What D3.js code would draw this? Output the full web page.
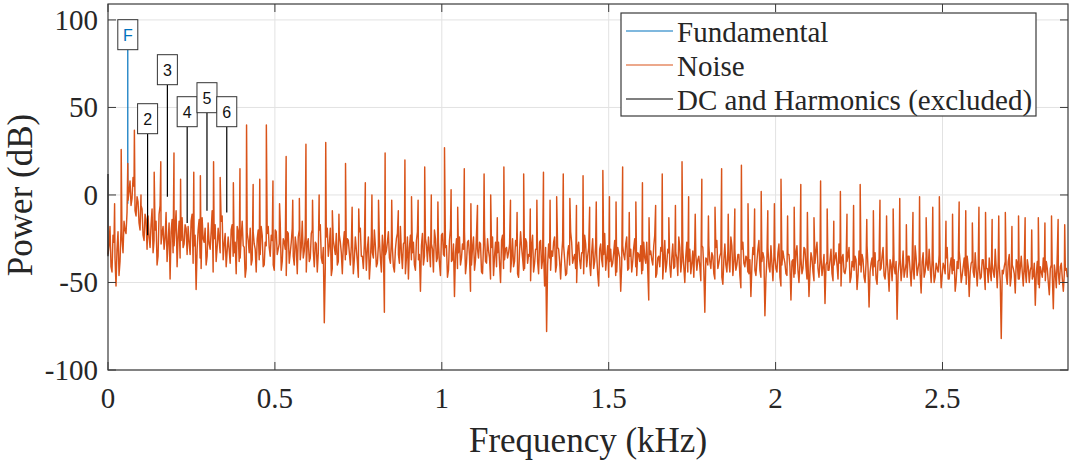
<!DOCTYPE html>
<html>
<head>
<meta charset="utf-8">
<title>Power spectrum</title>
<script src="https://d3js.org/d3.v7.min.js"></script>
<style>
  body { margin: 0; background: #ffffff; }
  svg text { font-family: 'Liberation Serif', 'Times New Roman', serif; fill: #262626; }
  .tick-label { font-size: 29px; }
  .axis-title { font-size: 35px; }
  .legend-text { font-size: 29px; }
  .harm-label { font-family: 'Liberation Sans', Arial, sans-serif; font-size: 16px; }
  .grid line { stroke: #e2e2e2; stroke-width: 1; }
</style>
</head>
<body>
<svg id="chart" width="1071" height="462"></svg>
<script>
// ---- data ----
const xTicks = [0, 0.5, 1, 1.5, 2, 2.5];
const yTicks = [-100, -50, 0, 50, 100];
const xMax = 2.876;            // kHz
const yMin = -100, yMax = 109.1;

const f0 = 0.0593;             // fundamental, kHz
const harmonicLabels = ["F", "2", "3", "4", "5", "6"];
const harmonicPeak = [83, 35, 63, 39, 47, 39];     // dB
const harmonicBase = [-5, -23, -1, -16, -9, -10];  // dB
const dcPeak = 12, dcBase = -35;

// noise floor, one value every 6 Hz (0 .. 2.874 kHz)
const floorStep = 0.006;
const noiseFloor = [
  -34,-18,-44,-27,-52,-21,-38,-25,-15,-22,-3,8,-2,5,-12,-4,-20,-8,-26,-14,
  -12,-30,-8,-26,-15,-35,-6,-22,-31,-10,-27,-48,-14,-29,-9,-24,-36,-13,-28,-19,
  -18,-34,-11,-29,-54,-20,-36,-13,-27,-40,-16,-31,-9,-25,-38,-19,-33,-12,-28,-41,
  -24,-39,-17,-33,-45,-21,-36,-15,-30,-42,-26,-19,-37,-28,-44,-20,-34,-23,-40,-29,
  -18,-35,-26,-43,-21,-31,-16,-38,-27,-46,-22,-33,-19,-40,-29,-24,-37,-15,-32,-44,
  -25,-36,-20,-41,-28,-33,-17,-39,-73,-24,-35,-19,-42,-30,-22,-38,-27,-45,-21,-34,
  -26,-40,-22,-37,-31,-47,-19,-35,-28,-43,-24,-38,-33,-20,-41,-29,-36,-23,-67,-32,
  -21,-39,-30,-44,-25,-34,-18,-42,-27,-36,-48,-23,-33,-40,-26,-37,-55,-22,-35,-29,
  -24,-41,-31,-20,-38,-27,-46,-22,-35,-29,-43,-19,-37,-58,-25,-33,-40,-28,-21,-39,
  -26,-55,-30,-43,-22,-36,-28,-45,-20,-39,-32,-48,-24,-35,-41,-27,-50,-23,-37,-30,
  -33,-44,-25,-38,-29,-47,-21,-36,-42,-27,-34,-49,-23,-39,-31,-45,-26,-37,-52,-78,
  -28,-43,-35,-24,-40,-31,-48,-26,-37,-45,-29,-21,-39,-34,-50,-27,-42,-33,-23,-41,
  -30,-46,-25,-38,-34,-52,-28,-41,-22,-36,-47,-31,-39,-26,-44,-33,-55,-29,-37,-24,
  -42,-31,-38,-25,-46,-34,-29,-43,-36,-27,-60,-32,-40,-23,-45,-35,-30,-48,-26,-39,
  -33,-47,-28,-41,-36,-24,-44,-31,-50,-27,-38,-45,-32,-26,-43,-35,-49,-30,-67,-37,
  -29,-42,-35,-48,-26,-39,-33,-51,-28,-44,-37,-24,-46,-31,-40,-34,-53,-27,-41,-36,
  -45,-58,-30,-43,-38,-26,-47,-33,-69,-36,-41,-29,-49,-35,-44,-28,-52,-32,-39,-46,
  -34,-60,-37,-45,-29,-50,-36,-42,-31,-48,-58,-33,-44,-39,-27,-47,-35,-41,-62,-38,
  -43,-31,-49,-36,-40,-28,-52,-34,-45,-38,-30,-47,-41,-35,-54,-32,-44,-37,-50,-29,
  -64,-39,-46,-33,-51,-37,-42,-30,-48,-36,-55,-40,-34,-45,-71,-38,-49,-32,-43,-47,
  -35,-52,-41,-29,-46,-38,-56,-33,-44,-40,-31,-50,-37,-47,-42,-34,-53,-39,-45,-30,
  -48,-36,-43,-55,-38,-32,-50,-41,-46,-35,-58,-39,-44,-33,-52,-40,-47,-37,-54,-42,
  -36,-49,-44,-31,-53,-40,-82,-45,-38,-51,-34,-47,-42,-56,-39,-48,-35,-52,-43,-37,
  -50,-41,-46,-63,-38,-53,-44,-36,-49,-42,-57,-40,-65,-45,-33,-51,-39,-55,-43,-47
];

// the in-between noise bins, half a step later (3 Hz .. 2.877 kHz)
const noiseFloorMid = [
  -29,-41,-23,-36,-31,-46,-19,-33,-20,-10,2,-6,10,-9,-1,-16,-6,-23,-11,-31,
  -24,-17,-33,-20,-40,-11,-28,-18,-25,-38,-16,-21,-33,-19,-41,-15,-26,-30,-17,-34,
  -27,-15,-39,-23,-31,-14,-42,-25,-19,-35,-28,-21,-44,-17,-30,-26,-15,-37,-22,-32,
  -31,-20,-35,-27,-18,-38,-24,-29,-47,-22,-33,-40,-21,-31,-25,-37,-18,-41,-27,-22,
  -30,-23,-40,-20,-34,-28,-43,-25,-31,-21,-39,-27,-35,-24,-45,-20,-30,-36,-23,-28,
  -38,-22,-32,-27,-44,-20,-36,-30,-41,-19,-29,-46,-26,-34,-40,-23,-33,-28,-37,-25,
  -33,-29,-45,-24,-38,-21,-35,-42,-26,-31,-48,-23,-36,-29,-39,-25,-44,-30,-34,-27,
  -36,-26,-41,-31,-22,-39,-33,-28,-45,-24,-30,-37,-27,-43,-21,-34,-29,-40,-25,-38,
  -32,-28,-44,-25,-36,-39,-23,-34,-30,-47,-26,-38,-28,-33,-42,-24,-36,-31,-45,-27,
  -35,-40,-24,-37,-31,-27,-44,-29,-38,-25,-36,-30,-46,-27,-33,-39,-26,-42,-31,-36,
  -28,-37,-41,-26,-45,-32,-30,-43,-25,-39,-35,-29,-44,-31,-38,-27,-42,-33,-30,-40,
  -36,-32,-27,-44,-30,-38,-35,-29,-46,-33,-40,-27,-36,-42,-30,-37,-33,-45,-28,-35,
  -39,-33,-42,-28,-45,-31,-37,-34,-43,-29,-38,-41,-33,-46,-30,-36,-40,-34,-28,-43,
  -35,-44,-30,-41,-33,-38,-45,-27,-39,-43,-34,-37,-29,-47,-36,-41,-32,-38,-44,-31,
  -40,-36,-42,-33,-46,-30,-38,-41,-35,-44,-31,-39,-47,-34,-37,-41,-29,-43,-36,-40,
  -38,-33,-45,-30,-42,-35,-47,-37,-40,-32,-44,-29,-38,-43,-34,-46,-31,-39,-35,-44,
  -37,-41,-34,-46,-31,-43,-38,-36,-48,-30,-44,-39,-35,-42,-33,-47,-40,-36,-45,-34,
  -41,-38,-47,-33,-43,-39,-45,-30,-41,-37,-44,-36,-49,-32,-42,-38,-46,-34,-40,-43,
  -37,-45,-40,-33,-48,-39,-36,-44,-41,-35,-50,-38,-43,-37,-46,-40,-34,-47,-39,-42,
  -44,-36,-41,-48,-38,-43,-35,-46,-40,-44,-37,-49,-41,-38,-45,-36,-42,-47,-39,-35,
  -43,-39,-48,-36,-42,-45,-38,-47,-35,-43,-41,-37,-50,-39,-44,-38,-46,-41,-36,-48,
  -40,-45,-37,-49,-42,-39,-46,-36,-51,-41,-44,-38,-47,-43,-40,-48,-37,-45,-42,-50,
  -44,-39,-47,-42,-38,-49,-43,-41,-46,-38,-52,-40,-45,-37,-48,-42,-44,-39,-50,-41,
  -43,-48,-39,-45,-51,-41,-47,-44,-38,-50,-42,-46,-40,-53,-44,-41,-48,-45,-42,-46
];

// noise spikes every f0/3 (k = 1 .. 145); null where the bin is excluded
const spikeStep = f0 / 3;
const spikePower = [
  -5,26,18,37,0,null,13,19,null,24,9,null,13,11,null,19,10,null,7,15,
  40,6,9,40,8,-5,22,-3,-2,29,-3,0,30,-9,-11,18,-7,-8,7,0,
  -3,24,-3,-9,20,-1,-3,16,0,-4,27,3,-7,15,-5,-6,12,0,-13,16,
  -3,-10,12,-8,-3,13,-3,-1,12,-2,-6,11,-7,-4,14,-1,-4,16,-10,-4,
  7,-13,-6,12,-13,-6,19,-1,-11,9,-12,-7,15,-11,-8,17,-5,-8,2,-9,
  -5,9,-12,-7,6,-10,-13,8,-8,-15,2,-11,-6,6,-14,-9,-3,-12,-8,-2,
  -17,-10,-1,-13,-7,-1,-15,-11,-4,-9,-16,-7,-10,-14,-12,-10,-18,-12,-13,-20,
  -13,-16,-12,-14,-17
];

const legendItems = ["Fundamental", "Noise", "DC and Harmonics (excluded)"];
const colors = { fund: "#0072BD", noise: "#D95319", harm: "#000000" };

// ---- layout ----
const margin = { top: 4, right: 3, bottom: 92, left: 108 };
const W = 1071, H = 462;
const iw = W - margin.left - margin.right;
const ih = H - margin.top - margin.bottom;

const svg = d3.select("#chart");
const g = svg.append("g").attr("transform", `translate(${margin.left},${margin.top})`);

const x = d3.scaleLinear().domain([0, xMax]).range([0, iw]);
const y = d3.scaleLinear().domain([yMin, yMax]).range([ih, 0]);

// grid
g.append("g").attr("class", "grid")
  .selectAll("line").data(xTicks.slice(1)).join("line")
  .attr("x1", d => x(d)).attr("x2", d => x(d)).attr("y1", 0).attr("y2", ih);
g.append("g").attr("class", "grid")
  .selectAll("line").data(yTicks).join("line")
  .attr("x1", 0).attr("x2", iw).attr("y1", d => y(d)).attr("y2", d => y(d));

const line = d3.line().x(d => x(d.f)).y(d => y(d.p));

// fundamental (drawn first, under the noise)
g.append("path")
  .datum([{ f: f0, p: harmonicBase[0] }, { f: f0, p: harmonicPeak[0] }])
  .attr("d", line).attr("fill", "none")
  .attr("stroke", colors.fund).attr("stroke-width", 1.2);

// noise trace: floor bins merged with spike bins
const noisePts = noiseFloor.map((p, i) => ({ f: i * floorStep, p }));
noiseFloorMid.forEach((p, i) => noisePts.push({ f: (i + 0.5) * floorStep, p }));
spikePower.forEach((p, i) => {
  if (p !== null) noisePts.push({ f: (i + 1) * spikeStep, p });
});
noisePts.sort((a, b) => a.f - b.f);

g.append("path")
  .datum(noisePts.filter(d => d.f <= xMax))
  .attr("d", line).attr("fill", "none")
  .attr("stroke", colors.noise).attr("stroke-width", 1.45)
  .attr("stroke-linejoin", "round");

// DC and harmonics 2..6
const harmSegs = [[{ f: 0, p: dcBase }, { f: 0, p: dcPeak }]];
for (let h = 1; h < harmonicLabels.length; h++) {
  const f = (h + 1) * f0;
  harmSegs.push([{ f, p: harmonicBase[h] }, { f, p: harmonicPeak[h] }]);
}
g.selectAll("path.harm").data(harmSegs).join("path")
  .attr("class", "harm")
  .attr("d", line).attr("fill", "none")
  .attr("stroke", colors.harm).attr("stroke-width", 1.2);

// harmonic label boxes
const labels = g.selectAll("g.hl").data(harmonicLabels).join("g")
  .attr("class", "hl")
  .attr("transform", (d, i) => `translate(${x((i + 1) * f0)},${y(harmonicPeak[i])})`);
labels.append("rect")
  .attr("x", -10).attr("y", -30).attr("width", 20).attr("height", 30)
  .attr("fill", "#ffffff").attr("stroke", "#333333").attr("stroke-width", 1);
labels.append("text")
  .attr("class", "harm-label")
  .attr("text-anchor", "middle").attr("y", -9)
  .style("fill", (d, i) => i === 0 ? colors.fund : "#111111")
  .text(d => d);

// frame and inward ticks on all sides
g.append("rect").attr("width", iw).attr("height", ih)
  .attr("fill", "none").attr("stroke", "#3a3a3a").attr("stroke-width", 1.2);
const tk = 8;
xTicks.forEach(t => {
  g.append("line").attr("x1", x(t)).attr("x2", x(t)).attr("y1", ih).attr("y2", ih - tk).attr("stroke", "#3a3a3a");
  g.append("line").attr("x1", x(t)).attr("x2", x(t)).attr("y1", 0).attr("y2", tk).attr("stroke", "#3a3a3a");
});
yTicks.forEach(t => {
  g.append("line").attr("x1", 0).attr("x2", tk).attr("y1", y(t)).attr("y2", y(t)).attr("stroke", "#3a3a3a");
  g.append("line").attr("x1", iw).attr("x2", iw - tk).attr("y1", y(t)).attr("y2", y(t)).attr("stroke", "#3a3a3a");
});

// tick labels
g.selectAll("text.xt").data(xTicks).join("text")
  .attr("class", "tick-label").attr("text-anchor", "middle")
  .attr("x", d => x(d)).attr("y", ih + 38)
  .text(d => d3.format("~g")(d));
g.selectAll("text.yt").data(yTicks).join("text")
  .attr("class", "tick-label").attr("text-anchor", "end")
  .attr("x", -10).attr("y", d => y(d) + 10)
  .text(d => d);

// axis titles
svg.append("text").attr("class", "axis-title").attr("text-anchor", "middle")
  .attr("x", margin.left + iw / 2).attr("y", 452)
  .text("Frequency (kHz)");
svg.append("text").attr("class", "axis-title").attr("text-anchor", "middle")
  .attr("transform", `translate(32,${margin.top + y(0)}) rotate(-90)`)
  .text("Power (dB)");

// legend
const lg = svg.append("g").attr("transform", "translate(621,13)");
lg.append("rect").attr("width", 415).attr("height", 103)
  .attr("fill", "#ffffff").attr("stroke", "#3a3a3a").attr("stroke-width", 1.2);
const legendColors = [colors.fund, colors.noise, colors.harm];
legendItems.forEach((name, i) => {
  const cy = 18 + i * 34;
  lg.append("line").attr("x1", 5).attr("x2", 52).attr("y1", cy).attr("y2", cy)
    .attr("stroke", legendColors[i]).attr("stroke-width", 1.2);
  lg.append("text").attr("class", "legend-text")
    .attr("x", 56).attr("y", cy + 11).text(name);
});
</script>
</body>
</html>
